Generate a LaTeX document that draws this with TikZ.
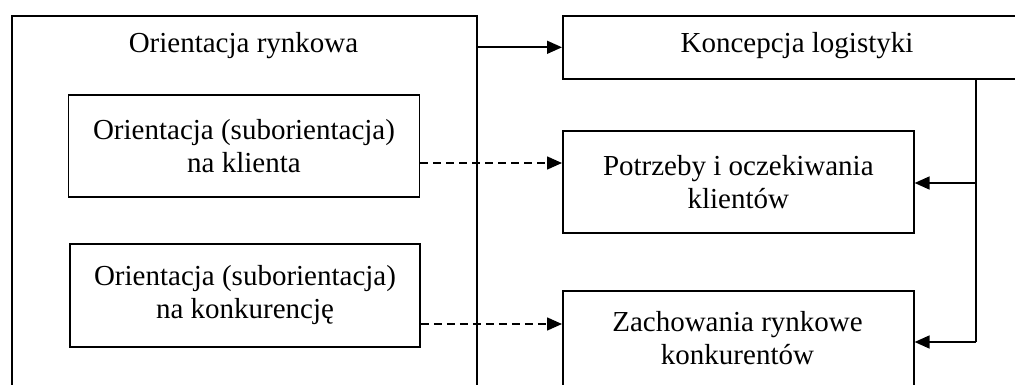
\documentclass[tikz,border=0pt]{standalone}
\usepackage{fontspec}
\setmainfont{Liberation Serif}
\usetikzlibrary{arrows.meta}

\begin{document}
\begin{tikzpicture}[x=1pt,y=-1pt,
  txt/.style={font=\fontsize{29}{33}\selectfont, align=center},
  box/.style={draw, line width=1.6pt, inner sep=0pt},
  link/.style={line width=1.6pt, -{Triangle[length=15pt,width=13pt]}},
  dlink/.style={link, dash pattern=on 8pt off 5pt}]
\useasboundingbox (0,0) rectangle (1015,385);
\clip (0,0) rectangle (1015,385);

% Orientacja rynkowa (left)
\node[box, minimum width=465, minimum height=420, anchor=north west] (rynek) at (11,15) {};
\node[txt] (rynekt) at (243.5,46) {Orientacja rynkowa};
\node[box, txt, minimum width=351, minimum height=102] (klient) at (244,146) {Orientacja (suborientacja)\\na klienta};
\node[box, txt, minimum width=350, minimum height=103] (konk) at (245,295.5) {Orientacja (suborientacja)\\na konkurencję};

% Koncepcja logistyki (right)
\node[box, minimum width=470, minimum height=63, anchor=north west] (logist) at (562,15) {};
\node[txt] (logistt) at (797,46) {Koncepcja logistyki};
\node[box, txt, minimum width=351, minimum height=102, anchor=north west] (potrz) at (562,130) {Potrzeby i oczekiwania\\klientów};
\node[box, minimum width=351, minimum height=140, anchor=north west] (zach) at (562,290) {};
\node[txt] (zacht) at (737.5,338) {Zachowania rynkowe\\konkurentów};

\coordinate (b1) at (976,183);
\coordinate (b2) at (976,342);
\coordinate (d1) at (0,163);
\coordinate (d2) at (0,324);

\draw[link] (rynek.east |- logist.west) -- (logist.west);
\draw[line width=1.6pt] (logist.south -| b1) -- (b2);
\draw[link] (b1) -- (potrz.east |- b1);
\draw[link] (b2) -- (zach.east |- b2);
\draw[dlink] (klient.east |- d1) -- (potrz.west |- d1);
\draw[dlink] (konk.east |- d2) -- (zach.west |- d2);
\end{tikzpicture}
\end{document}
